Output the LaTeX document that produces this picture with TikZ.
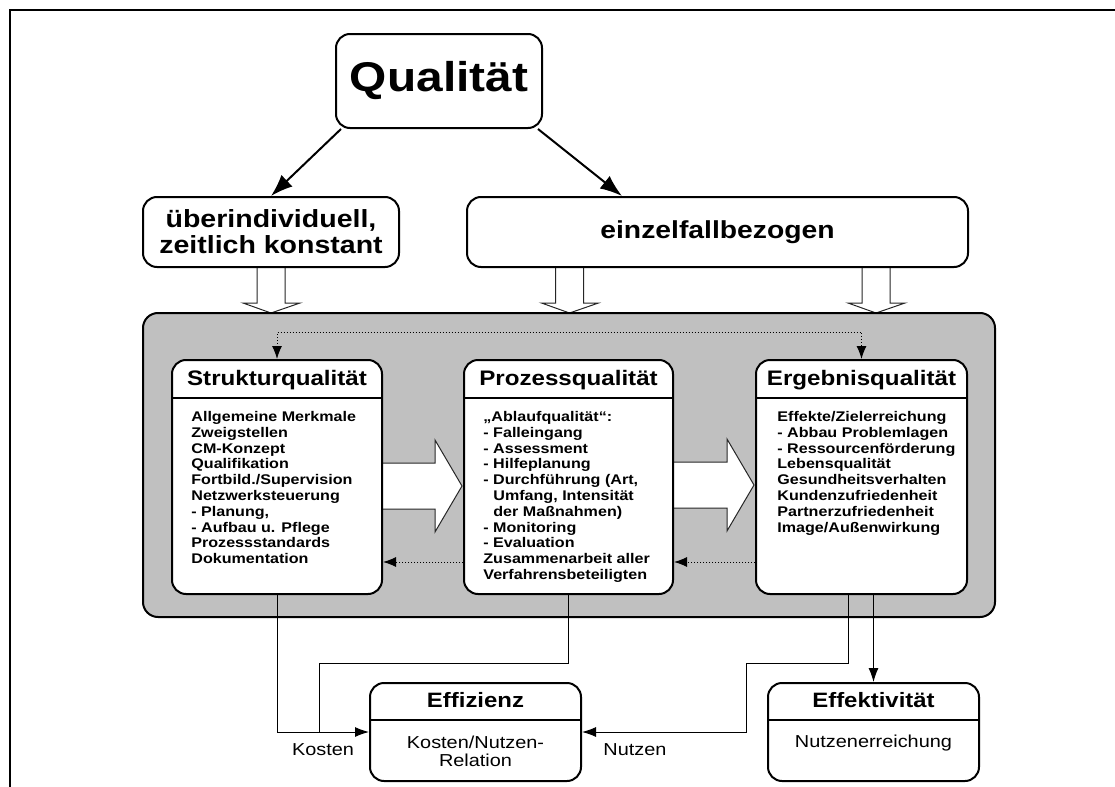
\documentclass[tikz,border=0pt]{standalone}
\usepackage{fontspec}
\setmainfont{Liberation Sans}[FakeStretch=1.15]
\usepackage{tikz}
\usetikzlibrary{arrows.meta}
\definecolor{panelgrey}{HTML}{C0C0C0}

\begin{document}
\begin{tikzpicture}[x=0.5pt,y=-0.5pt,
  rbox/.style={draw,line width=1pt,rounded corners=7pt,fill=white,inner sep=0pt},
  colbox/.style={rbox,minimum width=105pt,minimum height=117pt},
  lowbox/.style={rbox,minimum width=105.5pt,minimum height=49pt},
  bigarr/.style={fill=white,draw=black!85,line width=0.5pt},
  title/.style={anchor=base,inner sep=0pt,font=\bfseries\fontsize{10.5}{12}\selectfont},
  body/.style={anchor=north west,inner sep=0pt,align=left,font=\bfseries\fontsize{7}{7.9}\selectfont},
  conn/.style={line width=0.5pt,-{Latex[length=7pt,width=5pt]}},
  dotarr/.style={densely dotted,line width=0.5pt,-{Latex[length=6.5pt,width=5pt]}}
]
\useasboundingbox (0,0) rectangle (1115,787);

\draw[line width=1pt] (10,800) -- (10,10) -- (1130,10); % frame

% hollow arrows down into the panel
\foreach \x in {271,569.5,876}
\filldraw[bigarr] (\x-14,267) -- (\x-14,303) -- (\x-28,303) -- (\x,313) -- (\x+29,303) -- (\x+14,303) -- (\x+14,267);

\node[rbox,minimum width=103pt,minimum height=47pt] (qual) at (439,81) {};
\node[anchor=base,inner sep=0pt,font=\bfseries\fontsize{20.8}{25}\selectfont] (qualt) at (439,91) {Qualität};
\node[rbox,minimum width=128pt,minimum height=35pt,align=center,font=\bfseries\fontsize{12.4}{13}\selectfont] (ueber) at (271,232) {überindividuell,\\zeitlich konstant};
\node[rbox,minimum width=250.5pt,minimum height=35pt,font=\bfseries\fontsize{12.3}{13}\selectfont] (einz) at (717.5,232) {einzelfallbezogen};

\draw[line width=1pt,-{Latex[length=11pt,width=8pt]}] ([xshift=3pt]qual.south west) -- (ueber.north);
\draw[line width=1pt,-{Latex[length=11pt,width=8pt]}] ([xshift=-2.5pt]qual.south east) -- ([xshift=78pt]einz.north west);

% grey panel
\node[draw,line width=1pt,rounded corners=7.5pt,fill=panelgrey,minimum width=426pt,minimum height=152pt] (panel) at (569,465) {};

\filldraw[bigarr] (382,463) -- (435,463) -- (435,440) -- (462,486) -- (435,532) -- (435,509) -- (382,509);
\filldraw[bigarr] (673,462) -- (727,462) -- (727,439) -- (754,485) -- (727,531) -- (727,508) -- (673,508);

\node[colbox] (sq) at (277,477) {};
\node[colbox,minimum width=104.5pt] (pq) at (568.5,477) {};
\node[colbox,minimum width=105.5pt] (eq) at (861.5,477) {};
\foreach \n in {sq,pq,eq}
\draw[line width=1pt] (\n.west |- 0,398) -- (\n.east |- 0,398);

\node[title] (sqt) at (277,385) {Strukturqualität};
\node[title] (pqt) at (568.5,385) {Prozessqualität};
\node[title] (eqt) at (861.5,385) {Ergebnisqualität};

\node[body] (sqb) at (191,411) {Allgemeine Merkmale\\Zweigstellen\\CM-Konzept\\Qualifikation\\Fortbild./Supervision\\Netzwerksteuerung\\- Planung,\\- Aufbau u. Pflege\\Prozessstandards\\Dokumentation};
\node[body] (pqb) at (483,411) {„Ablaufqualität“:\\- Falleingang\\- Assessment\\- Hilfeplanung\\- Durchführung (Art,\\\hspace*{5pt}Umfang, Intensität\\\hspace*{5pt}der Maßnahmen)\\- Monitoring\\- Evaluation\\Zusammenarbeit aller\\Verfahrensbeteiligten};
\node[body] (eqb) at (777,411) {Effekte/Zielerreichung\\- Abbau Problemlagen\\- Ressourcenförderung\\Lebensqualität\\Gesundheitsverhalten\\Kundenzufriedenheit\\Partnerzufriedenheit\\Image/Außenwirkung};

\draw[dotarr,{Latex[length=6.5pt,width=5pt]}-{Latex[length=6.5pt,width=5pt]}] (sq.north) -- ++(0,-27) -| (eq.north);
\draw[dotarr] ([yshift=-42.5pt]pq.west) -- ([yshift=-42.5pt]sq.east);
\draw[dotarr] ([yshift=-42.5pt]eq.west) -- ([yshift=-42.5pt]pq.east);

% lower boxes
\node[lowbox] (effz) at (475.5,732) {};
\node[lowbox] (efk) at (873.5,732) {};
\foreach \n in {effz,efk}
\draw[line width=1pt] (\n.west |- 0,720) -- (\n.east |- 0,720);
\node[title,font=\bfseries\fontsize{10.4}{12}\selectfont] (effzt) at (475.5,707) {Effizienz};
\node[title,font=\bfseries\fontsize{10.4}{12}\selectfont] (efkt) at (873.5,707) {Effektivität};
\node[inner sep=0pt,align=center,font=\fontsize{8.65}{9}\selectfont] (effzb) at (475.5,751.5) {Kosten/Nutzen-\\Relation};
\node[anchor=base,inner sep=0pt,font=\fontsize{8.65}{9}\selectfont] (efkb) at (873.5,747) {Nutzenerreichung};

\coordinate (kj) at (319,732);
\coordinate (nj) at (746,663);
\draw[conn] (sq.south) |- (effz.west);
\draw[line width=0.5pt] (pq.south) |- ([yshift=34.5pt]kj) -- (kj);
\draw[conn] ([xshift=-6.75pt]eq.south) |- (nj) |- (effz.east);
\draw[conn] (efk.north |- eq.south) -- (efk.north);

\node[anchor=base,inner sep=0pt,font=\fontsize{8.65}{9}\selectfont] (kost) at (323,755) {Kosten};
\node[anchor=base,inner sep=0pt,font=\fontsize{8.65}{9}\selectfont] (nutz) at (635,755) {Nutzen};

\end{tikzpicture}
\end{document}
